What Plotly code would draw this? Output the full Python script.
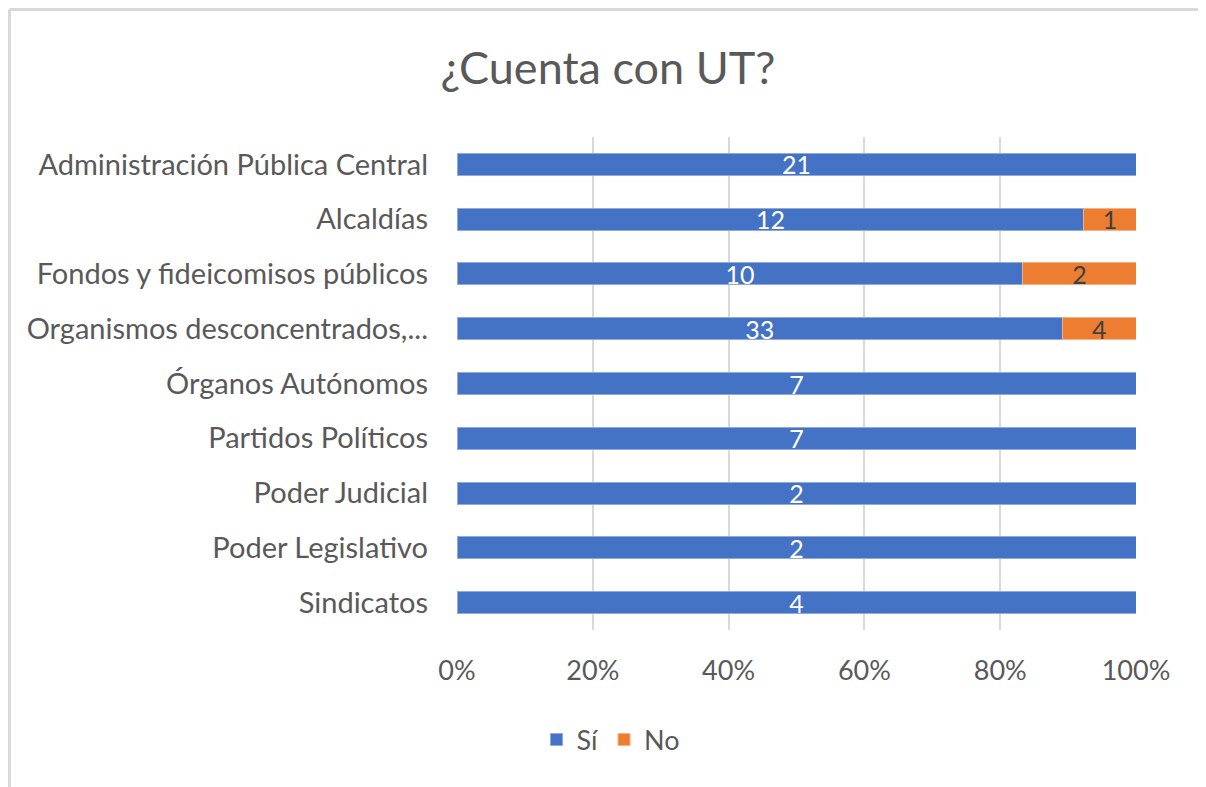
import plotly.graph_objects as go

categories = [
    "Administración Pública Central",
    "Alcaldías",
    "Fondos y fideicomisos públicos",
    "Organismos desconcentrados,...",
    "Órganos Autónomos",
    "Partidos Políticos",
    "Poder Judicial",
    "Poder Legislativo",
    "Sindicatos",
]
si_values = [21, 12, 10, 33, 7, 7, 2, 2, 4]
no_values = [0, 1, 2, 4, 0, 0, 0, 0, 0]
x_ticks = [0, 20, 40, 60, 80, 100]
x_tick_labels = ["0%", "20%", "40%", "60%", "80%", "100%"]

FONT = "Lato"
GREY = "#595959"

W, H = 1198, 779
L, R, T, B = 449, 70, 129, 157
PW, PH = W - L - R, H - T - B

fig = go.Figure()
fig.add_trace(go.Bar(
    name="Sí", y=categories, x=si_values, orientation="h",
    marker=dict(color="#4472C4", line=dict(color="#8FAADC", width=1)),
    text=[str(v) if v else "" for v in si_values],
    textposition="inside", insidetextanchor="middle", constraintext="none",
    textangle=0,
    textfont=dict(family=FONT, size=25, color="white"),
    hoverinfo="skip",
))
fig.add_trace(go.Bar(
    name="No", y=categories, x=no_values, orientation="h",
    marker=dict(color="#ED7D31", line=dict(color="#F4B183", width=1)),
    text=[str(v) if v else "" for v in no_values],
    textposition="inside", insidetextanchor="middle", constraintext="none",
    textangle=0,
    textfont=dict(family=FONT, size=25, color="#404040"),
    hoverinfo="skip",
))

fig.update_layout(
    barmode="stack", barnorm="percent", bargap=0.6,
    width=W, height=H,
    margin=dict(l=L, r=R, t=T, b=B),
    paper_bgcolor="white", plot_bgcolor="white",
    font=dict(family=FONT, color=GREY),
    title=dict(text="¿Cuenta con UT?", x=(600 - 0) / W, xanchor="center",
               y=1 - 60 / H, yanchor="middle",
               font=dict(family=FONT, size=45, color=GREY)),
    legend=dict(orientation="h", x=(603 - L) / PW, xanchor="center",
                y=(PH - (732 - T)) / PH, yanchor="middle",
                font=dict(family=FONT, size=27, color=GREY),
                itemwidth=30, traceorder="normal"),
    xaxis=dict(range=[0, 100], tickvals=x_ticks, ticktext=x_tick_labels,
               showgrid=True, gridcolor="#D9D9D9", gridwidth=2,
               zeroline=False, showline=False, ticks="",
               tickfont=dict(family=FONT, size=27, color=GREY),
               ticklabelstandoff=22, fixedrange=True),
    yaxis=dict(autorange="reversed", showgrid=False, zeroline=False,
               ticks="", tickfont=dict(family=FONT, size=29, color=GREY),
               ticklabelstandoff=28, fixedrange=True),
    shapes=[
        dict(type="line", xref="paper", yref="paper",
             x0=(1.5 - L) / PW, x1=(W - L) / PW,
             y0=1 + (T - 1.5) / PH, y1=1 + (T - 1.5) / PH,
             line=dict(color="#D9D9D9", width=3)),
        dict(type="line", xref="paper", yref="paper",
             x0=(1.5 - L) / PW, x1=(1.5 - L) / PW,
             y0=1 + (T - 1.5) / PH, y1=-B / PH,
             line=dict(color="#D9D9D9", width=3)),
    ],
)

fig.write_html("out.html")
